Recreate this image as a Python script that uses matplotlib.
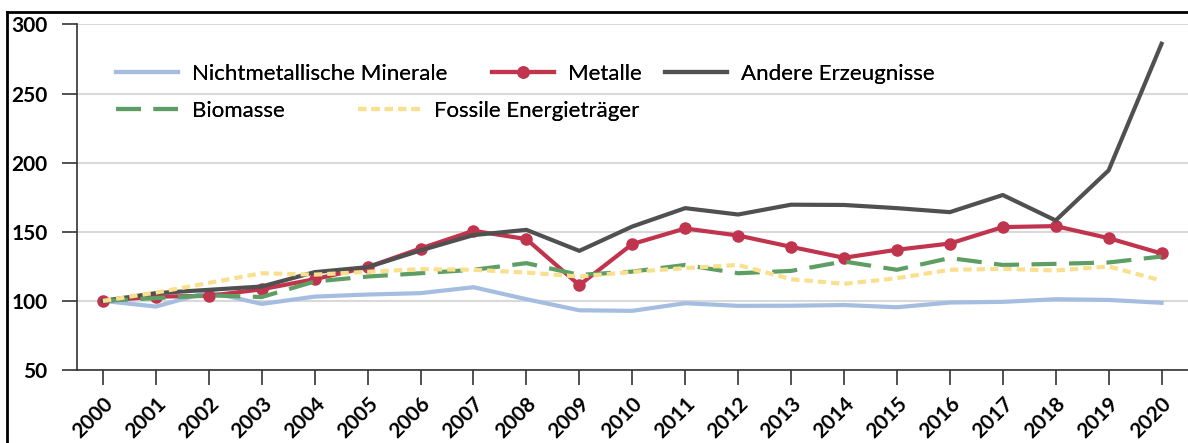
import matplotlib.pyplot as plt
from matplotlib.lines import Line2D

years = list(range(2000, 2021))

nichtmet = [100, 95.9, 106.5, 97.8, 103.1, 104.6, 105.6, 109.9, 101.2, 93.2, 92.8,
            98.3, 96.4, 96.5, 97.0, 95.4, 98.8, 99.3, 101.2, 100.7, 98.6]
metalle = [100, 103.1, 103.6, 108.4, 115.7, 124.4, 137.9, 150.7, 144.7, 111.4, 141.1,
           152.4, 147.3, 139.1, 131.2, 137.0, 141.5, 153.4, 154.1, 145.4, 134.3]
andere = [100, 105.6, 108.0, 110.4, 120.8, 124.4, 136.5, 147.6, 151.4, 136.2, 153.8,
          167.1, 162.5, 169.6, 169.4, 167.1, 164.2, 176.6, 158.2, 194.4, 286.0]
biomasse = [100, 102.0, 104.0, 102.8, 114.0, 117.6, 120.0, 122.5, 127.3, 118.8, 121.2,
            126.0, 120.0, 121.7, 128.5, 122.5, 131.0, 126.0, 126.8, 127.8, 132.1]
fossile = [100, 106.0, 113.0, 120.0, 119.0, 121.0, 123.0, 122.5, 120.5, 117.6, 121.0,
           123.7, 126.0, 115.7, 112.3, 116.4, 122.5, 123.2, 122.0, 124.9, 114.7]

labels = ['Nichtmetallische Minerale', 'Metalle', 'Andere Erzeugnisse',
          'Biomasse', 'Fossile Energieträger']
yticks = [50, 100, 150, 200, 250, 300]

plt.rcParams['font.family'] = ['Lato', 'DejaVu Sans']

fig = plt.figure(figsize=(11.88, 4.43), dpi=100)
ax = fig.add_axes([0.0644, 0.1648, 0.9356, 0.78])

l1, = ax.plot(years, nichtmet, color='#A5BDE0', lw=3)
l2, = ax.plot(years, metalle, color='#C0344E', lw=3, marker='o', ms=8)
l3, = ax.plot(years, andere, color='#505050', lw=3)
l4, = ax.plot(years, biomasse, color='#5E9E64', lw=3, dashes=(6, 3))
l5, = ax.plot(years, fossile, color='#F9E08E', lw=3, dashes=(2, 1.2))

ax.set_xlim(1999.5, 2020.5)
ax.set_ylim(50, 300)
ax.set_yticks(yticks)
ax.set_xticks(years)
ax.set_xticklabels([str(y) for y in years], rotation=45, ha='right',
                   rotation_mode='anchor', fontsize=15, fontweight='bold')
ax.set_yticklabels([str(v) for v in yticks], fontsize=15, fontweight='bold')
ax.tick_params(axis='y', length=11, width=1.2, pad=10, color='#333333')
ax.tick_params(axis='x', length=11, width=1.2, pad=6, color='#333333')
ax.grid(axis='y', color='#D9D9D9', lw=1.5)
ax.set_axisbelow(True)
for s in ['top', 'right']:
    ax.spines[s].set_visible(False)
for s in ['left', 'bottom']:
    ax.spines[s].set_color('#333333')
    ax.spines[s].set_linewidth(1.2)

# legend entries placed like the Excel layout (pixel positions of handle start / row centre)
spots = [(116, 74), (492, 74), (665, 74), (116, 111), (358, 111)]
for h, lab, (px, py) in zip([l1, l2, l3, l4, l5], labels, spots):
    lg = fig.legend([h], [lab], loc='center left', bbox_to_anchor=(px / 1188, 1 - py / 443),
                    frameon=False, fontsize=16, handlelength=2.8, handletextpad=0.6,
                    borderpad=0, borderaxespad=0)
    fig.add_artist(lg)

fig.add_artist(Line2D([7 / 1188, 7 / 1188], [0, 1 - 12 / 443], color='black', lw=2,
                      transform=fig.transFigure))
fig.add_artist(Line2D([7 / 1188, 1], [1 - 12 / 443, 1 - 12 / 443], color='black', lw=2,
                      transform=fig.transFigure))

fig.savefig('out.png', dpi=100)
